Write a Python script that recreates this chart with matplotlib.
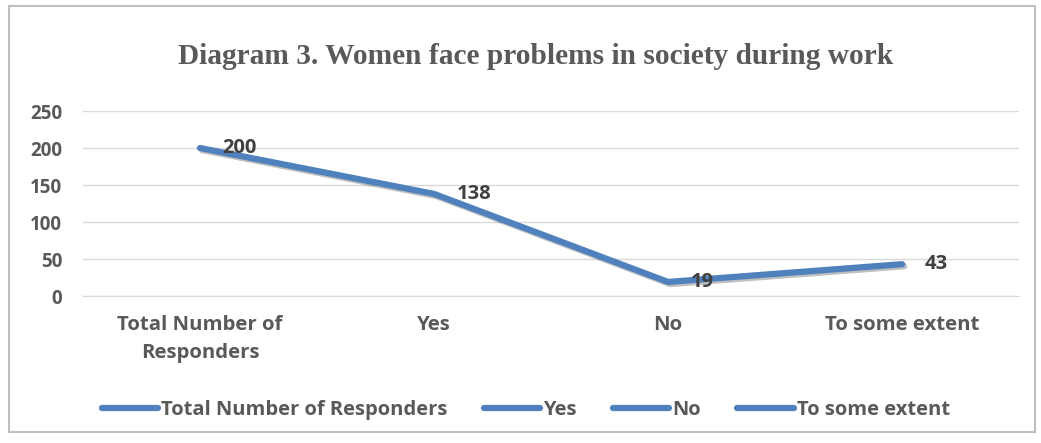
import matplotlib
matplotlib.use('Agg')
import matplotlib.pyplot as plt
import matplotlib.patheffects as pe
from matplotlib.lines import Line2D
from matplotlib.patches import Rectangle

# Chart data
categories = ['Total Number of\nResponders', 'Yes', 'No', 'To some extent']
legend_names = ['Total Number of Responders', 'Yes', 'No', 'To some extent']
values = [200, 138, 19, 43]
y_ticks = [0, 50, 100, 150, 200, 250]

line_color = '#4f81bd'
text_color = '#595959'
label_color = '#404040'
sans = ['Open Sans', 'DejaVu Sans']

fig = plt.figure(figsize=(10.41, 4.43), dpi=100)

# outer chart frame
fig.patches.append(Rectangle((0.009, 0.025), 0.985, 0.962, transform=fig.transFigure,
                             fill=False, edgecolor='#bfbfbf', linewidth=1.5))

ax = fig.add_axes([0.0797, 0.3318, 0.8993, 0.4176])
x = list(range(len(values)))
ax.plot(x, values, color=line_color, linewidth=4.5, solid_capstyle='round',
        path_effects=[pe.SimpleLineShadow(offset=(1.5, -1.5), alpha=0.25), pe.Normal()],
        zorder=3)

for xi, v in zip(x, values):
    ax.annotate(str(v), (xi, v), xytext=(16, 0), textcoords='offset points',
                ha='left', va='center', fontsize=14.5, fontweight='bold',
                color=label_color, family=sans, zorder=4)

ax.set_xlim(-0.5, len(values) - 0.5)
ax.set_ylim(0, 250)
ax.set_yticks(y_ticks)
ax.set_xticks(x)
ax.set_xticklabels(categories, linespacing=1.5)
ax.grid(axis='y', color='#d9d9d9', linewidth=1)
ax.set_axisbelow(True)
for s in ['top', 'right', 'left']:
    ax.spines[s].set_visible(False)
ax.spines['bottom'].set_color('#d9d9d9')
ax.tick_params(length=0, labelsize=13.5, labelcolor=text_color)
ax.tick_params(axis='x', pad=14, labelsize=14.7)
ax.tick_params(axis='y', pad=15)
for lab in ax.get_xticklabels() + ax.get_yticklabels():
    lab.set_fontweight('bold')
    lab.set_family(sans)

fig.text(0.515, 0.873, 'Diagram 3. Women face problems in society during work',
         ha='center', va='center', fontsize=21.2, fontweight='bold',
         color=text_color, family='Liberation Serif')

handles = [Line2D([0], [0], color=line_color, linewidth=4.5, solid_capstyle='round')
           for _ in legend_names]
leg = fig.legend(handles, legend_names, loc='center', bbox_to_anchor=(0.505, 0.075),
                 ncol=4, frameon=False, handlelength=2.8, handletextpad=0.15,
                 columnspacing=1.8, prop={'family': sans, 'weight': 'bold', 'size': 14.5})
for t in leg.get_texts():
    t.set_color(text_color)

fig.savefig('out.png', dpi=100)
